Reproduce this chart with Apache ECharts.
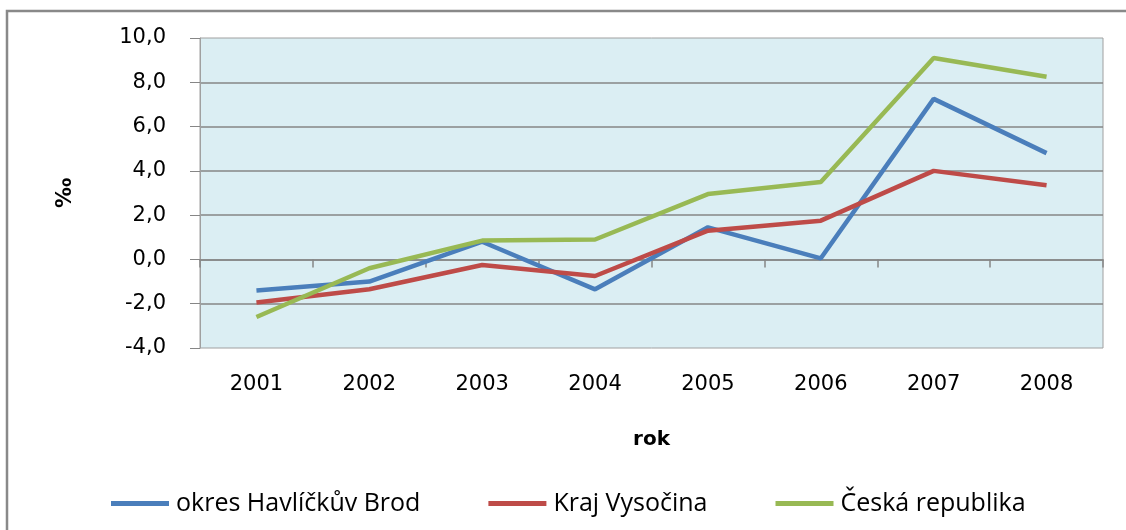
<!DOCTYPE html>
<html>
<head>
<meta charset="utf-8">
<script src="https://cdn.jsdelivr.net/npm/echarts@6/dist/echarts.min.js"></script>
<style>
  html, body { margin: 0; padding: 0; background: #fff; }
  #chart { width: 1126px; height: 530px; }
</style>
</head>
<body>
<div id="chart"></div>
<script>
const years = ['2001', '2002', '2003', '2004', '2005', '2006', '2007', '2008'];
const seriesNames = ['okres Havlíčkův Brod', 'Kraj Vysočina', 'Česká republika'];
const brod = [-1.4, -1.0, 0.8, -1.35, 1.45, 0.05, 7.25, 4.8];
const vysocina = [-1.95, -1.35, -0.25, -0.75, 1.3, 1.75, 4.0, 3.35];
const cr = [-2.6, -0.4, 0.85, 0.9, 2.95, 3.5, 9.1, 8.25];
const colorList = ['#4a7ebb', '#be4b48', '#98b954'];

const chart = echarts.init(document.getElementById('chart'));

const lineSeries = (name, data, i) => ({
  name: name,
  type: 'line',
  data: data,
  xAxisIndex: 0,
  symbol: 'none',
  smooth: false,
  lineStyle: { width: 4.5, color: colorList[i] },
  itemStyle: { color: colorList[i] }
});

const option = {
  animation: false,
  backgroundColor: '#fff',
  graphic: [{
    type: 'rect',
    shape: { x: 7, y: 11, width: 1200, height: 600 },
    style: { fill: 'none', stroke: '#898989', lineWidth: 2.5 },
    silent: true
  }],
  grid: {
    left: 200, top: 38, right: 23, bottom: 182,
    show: true,
    backgroundColor: '#dbeef3',
    borderColor: '#a0a0a0',
    borderWidth: 1
  },
  legend: {
    bottom: 9,
    left: 106,
    icon: 'rect',
    itemWidth: 58,
    itemHeight: 5,
    itemGap: 68,
    textStyle: { fontFamily: 'Open Sans', fontSize: 25, color: '#000', padding: [0, 0, 0, 2] },
    data: seriesNames
  },
  xAxis: [{
    type: 'category',
    data: years,
    position: 'bottom',
    boundaryGap: true,
    name: 'rok',
    nameLocation: 'middle',
    nameGap: 82,
    nameTextStyle: { fontFamily: 'DejaVu Sans', fontSize: 20, fontWeight: 'bold', color: '#000' },
    axisLine: { show: false, onZero: false },
    axisTick: { show: false },
    axisLabel: { margin: 26, fontFamily: 'DejaVu Sans', fontSize: 21, color: '#000' }
  }, {
    type: 'category',
    data: years,
    position: 'bottom',
    boundaryGap: true,
    axisLine: { show: true, onZero: true, lineStyle: { color: '#868686', width: 1.5 } },
    axisTick: { show: true, length: 8, lineStyle: { color: '#868686', width: 1.5 } },
    axisLabel: { show: false }
  }],
  yAxis: {
    type: 'value',
    min: -4,
    max: 10,
    interval: 2,
    name: '‰',
    nameLocation: 'middle',
    nameGap: 124,
    nameTextStyle: { fontFamily: 'DejaVu Sans', fontSize: 21, fontWeight: 'bold', color: '#000' },
    axisLine: { show: true, lineStyle: { color: '#a0a0a0' } },
    axisTick: { show: true, length: 10, lineStyle: { color: '#868686' } },
    axisLabel: {
      margin: 34,
      fontFamily: 'DejaVu Sans',
      fontSize: 21,
      color: '#000',
      formatter: v => v.toFixed(1).replace('.', ',')
    },
    splitLine: {
      show: true,
      showMinLine: false,
      showMaxLine: false,
      lineStyle: { color: '#868686', width: 1.5 }
    }
  },
  series: [
    lineSeries(seriesNames[0], brod, 0),
    lineSeries(seriesNames[1], vysocina, 1),
    lineSeries(seriesNames[2], cr, 2)
  ]
};

option && chart.setOption(option);
</script>
</body>
</html>
